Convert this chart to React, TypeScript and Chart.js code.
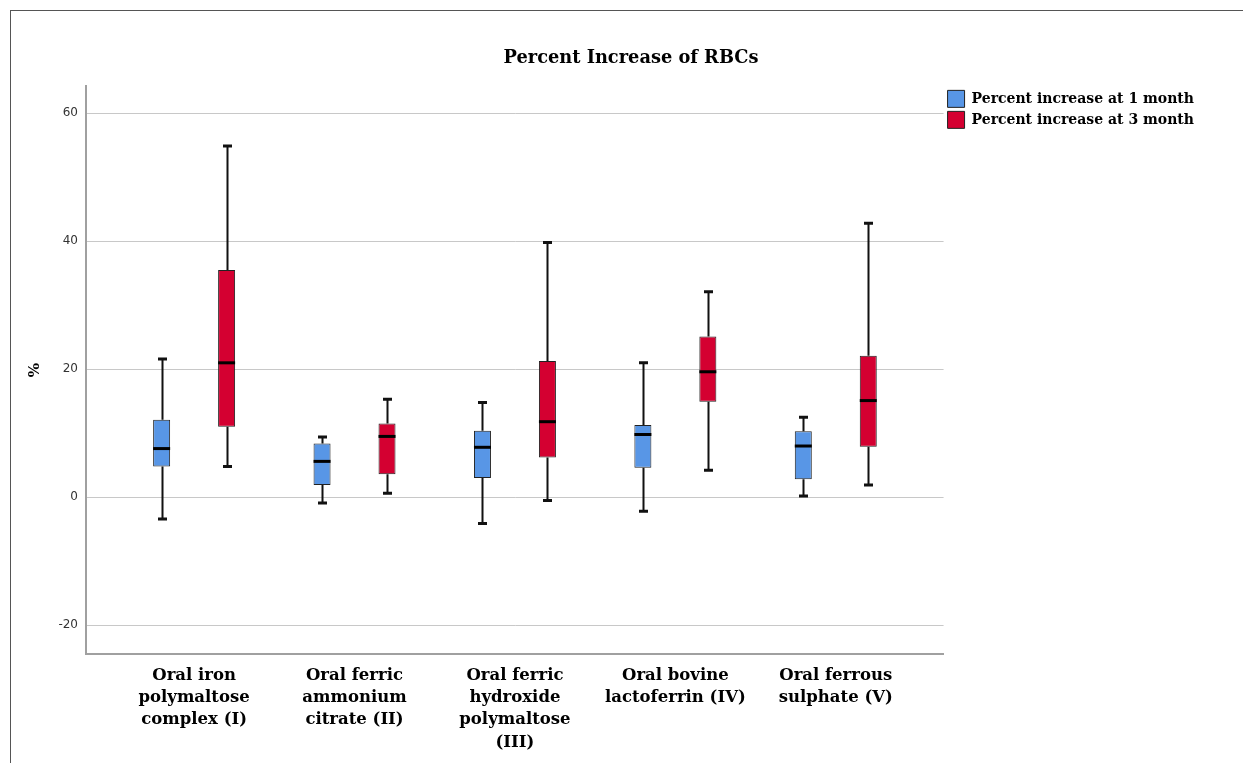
import React, { useEffect, useRef } from "react";
import { Chart, registerables } from "chart.js";

Chart.register(...registerables);

const categories: string[][] = [
  ["Oral iron", "polymaltose", "complex (I)"],
  ["Oral ferric", "ammonium", "citrate (II)"],
  ["Oral ferric", "hydroxide", "polymaltose", "(III)"],
  ["Oral bovine", "lactoferrin (IV)"],
  ["Oral ferrous", "sulphate (V)"],
];

const seriesNames = ["Percent increase at 1 month", "Percent increase at 3 month"];

const month1Min = [-3.4, -0.9, -4.1, -2.2, 0.2];
const month1Q1 = [4.8, 1.9, 3.0, 4.6, 2.8];
const month1Median = [7.6, 5.6, 7.8, 9.8, 8.0];
const month1Q3 = [12.1, 8.4, 10.4, 11.3, 10.3];
const month1Max = [21.6, 9.4, 14.8, 21.0, 12.5];

const month3Min = [4.8, 0.6, -0.5, 4.2, 1.9];
const month3Q1 = [11.0, 3.6, 6.2, 14.9, 7.9];
const month3Median = [21.0, 9.5, 11.8, 19.6, 15.1];
const month3Q3 = [35.5, 11.5, 21.3, 25.1, 22.1];
const month3Max = [54.9, 15.3, 39.8, 32.1, 42.8];

const yTickValues = [-20, 0, 20, 40, 60];

const stats = [
  { min: month1Min, q1: month1Q1, med: month1Median, q3: month1Q3, max: month1Max },
  { min: month3Min, q1: month3Q1, med: month3Median, q3: month3Q3, max: month3Max },
];

const SERIF = "'DejaVu Serif', serif";

const whiskerPlugin = {
  id: "whiskers",
  afterDatasetsDraw(chart: any) {
    const ctx = chart.ctx;
    const y = chart.scales.y;
    chart.data.datasets.forEach((_: any, di: number) => {
      const meta = chart.getDatasetMeta(di);
      const s = stats[di];
      meta.data.forEach((bar: any, i: number) => {
        const cx = Math.round(bar.x) + 0.5;
        const w = bar.width;
        const pMin = y.getPixelForValue(s.min[i]);
        const pQ1 = y.getPixelForValue(s.q1[i]);
        const pMed = y.getPixelForValue(s.med[i]);
        const pQ3 = y.getPixelForValue(s.q3[i]);
        const pMax = y.getPixelForValue(s.max[i]);
        ctx.save();
        ctx.strokeStyle = "#111";
        ctx.lineCap = "butt";
        ctx.lineWidth = 2;
        ctx.beginPath();
        ctx.moveTo(cx, pQ3);
        ctx.lineTo(cx, pMax);
        ctx.moveTo(cx, pQ1);
        ctx.lineTo(cx, pMin);
        ctx.stroke();
        ctx.lineWidth = 3;
        ctx.beginPath();
        ctx.moveTo(cx - 4.5, pMax);
        ctx.lineTo(cx + 4.5, pMax);
        ctx.moveTo(cx - 4.5, pMin);
        ctx.lineTo(cx + 4.5, pMin);
        ctx.stroke();
        ctx.strokeStyle = "#000";
        ctx.beginPath();
        ctx.moveTo(bar.x - w / 2, pMed);
        ctx.lineTo(bar.x + w / 2, pMed);
        ctx.stroke();
        ctx.restore();
      });
    });
  },
};

export default function App() {
  const ref = useRef<HTMLCanvasElement>(null);

  useEffect(() => {
    if (!ref.current) return;
    const colors = ["#5896e6", "#d40031"];
    const chart = new Chart(ref.current, {
      type: "bar",
      data: {
        datasets: stats.map((s, di) => ({
          label: seriesNames[di],
          data: s.q1.map((v, i) => ({ x: i, y: [v, s.q3[i]] })),
          backgroundColor: colors[di],
          borderColor: "#222",
          borderWidth: 1,
          borderSkipped: false,
          categoryPercentage: 0.81,
          barPercentage: 0.9,
          maxBarThickness: 17,
        })) as any,
      },
      options: {
        responsive: false,
        animation: false,
        layout: { padding: { left: 47, right: 39, top: 0, bottom: 0 } },
        plugins: {
          title: {
            display: true,
            text: "Percent Increase of RBCs",
            color: "#000",
            font: { family: SERIF, size: 17.8, weight: "bold" },
            padding: { top: 37, bottom: 17 },
          },
          legend: {
            position: "right",
            align: "start",
            fullSize: false,
            labels: {
              boxWidth: 17,
              boxHeight: 17,
              padding: 4,
              color: "#000",
              font: { family: SERIF, size: 14, weight: "bold" },
            },
          },
          tooltip: { enabled: false },
        },
        scales: {
          x: {
            type: "linear",
            offset: false,
            min: -0.674,
            max: 4.672,
            grid: { display: false, drawTicks: false },
            border: { display: true, color: "#a0a0a0", width: 2 },
            afterBuildTicks: (scale: any) => {
              scale.ticks = categories.map((_, i) => ({ value: i }));
            },
            afterFit: (scale: any) => {
              scale.height = 109;
            },
            ticks: {
              autoSkip: false,
              maxRotation: 0,
              padding: 10,
              color: "#000",
              font: { family: SERIF, size: 16.5, weight: "bold", lineHeight: 1.36 },
              callback: (v: any) => categories[Math.round(Number(v))] ?? "",
            },
          },
          y: {
            min: -24.5,
            max: 64.2,
            afterBuildTicks: (scale: any) => {
              scale.ticks = yTickValues.map((v) => ({ value: v }));
            },
            afterFit: (scale: any) => {
              scale.width = 28;
            },
            grid: { color: "#c8c8c8", lineWidth: 1, drawTicks: false },
            border: { display: true, color: "#a0a0a0", width: 2 },
            ticks: {
              padding: 8,
              color: "#333",
              font: { family: "'DejaVu Sans', sans-serif", size: 12 },
            },
            title: {
              display: true,
              text: "%",
              color: "#000",
              font: { family: SERIF, size: 15, weight: "bold" },
              padding: { top: -32, bottom: 0 },
            },
          },
        },
      },
      plugins: [whiskerPlugin],
    });
    return () => chart.destroy();
  }, []);

  return (
    <div
      style={{
        position: "absolute",
        left: 10,
        top: 10,
        borderTop: "1px solid #555",
        borderLeft: "1px solid #555",
        background: "#fff",
      }}
    >
      <canvas ref={ref} width={1232} height={752} style={{ display: "block" }} />
    </div>
  );
}
